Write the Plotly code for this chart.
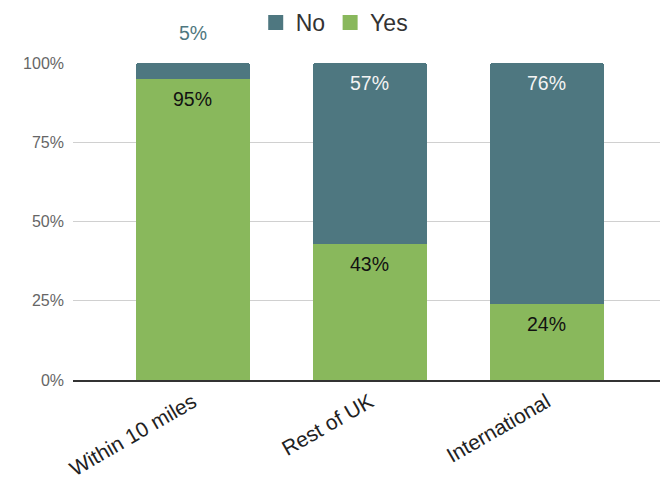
import plotly.graph_objects as go

categories = ["Within 10 miles", "Rest of UK", "International"]
yes_values = [95, 43, 24]
no_values = [5, 57, 76]
tick_vals = [0, 25, 50, 75, 100]
tick_text = ["0%", "25%", "50%", "75%", "100%"]

YES_COLOR = "#89b85c"
NO_COLOR = "#4e7780"
FONT = "Liberation Sans, Arial, sans-serif"

fig = go.Figure()
fig.add_trace(go.Bar(
    x=categories, y=yes_values, name="Yes", marker_color=YES_COLOR,
    marker_line_width=0, width=0.645, hoverinfo="skip", showlegend=False,
    legendgroup="yes",
))
fig.add_trace(go.Bar(
    x=categories, y=no_values, name="No", marker_color=NO_COLOR,
    marker_line_width=0, width=0.645, hoverinfo="skip", showlegend=False,
    legendgroup="no",
))
# legend entries with larger square swatches
for name, color in [("No", NO_COLOR), ("Yes", YES_COLOR)]:
    fig.add_trace(go.Scatter(
        x=[None], y=[None], mode="markers", name=name,
        marker=dict(symbol="square", size=15, color=color),
        legendgroup=name.lower(),
    ))

for c, y, n in zip(categories, yes_values, no_values):
    fig.add_annotation(x=c, y=y, text=f"{y}%", showarrow=False, yshift=-20,
                       font=dict(color="#111111", size=19.5, family=FONT))
    if n < 10:
        fig.add_annotation(x=c, y=y + n, text=f"{n}%", showarrow=False,
                           yshift=30, font=dict(color=NO_COLOR, size=19.5, family=FONT))
    else:
        fig.add_annotation(x=c, y=y + n, text=f"{n}%", showarrow=False,
                           yshift=-19.5, font=dict(color="#f4f4f4", size=19.5, family=FONT))

fig.update_layout(
    barmode="stack",
    barcornerradius=3,
    width=660, height=481,
    margin=dict(l=73, r=0, t=63, b=101, autoexpand=False),
    paper_bgcolor="white", plot_bgcolor="white",
    font=dict(family=FONT),
    showlegend=True,
    legend=dict(orientation="h", x=0.445, xanchor="center", y=1.06, yanchor="bottom",
                font=dict(size=23, color="#333333"),
                itemwidth=30, itemsizing="trace"),
)
fig.update_xaxes(range=[-0.678, 2.64], tickangle=-30, showgrid=False,
                 showline=True, linecolor="#333333", linewidth=1.5,
                 tickfont=dict(size=21, color="#222222", family=FONT), ticks="")
fig.update_yaxes(range=[0, 100], tickvals=tick_vals, ticktext=tick_text,
                 showgrid=True, gridcolor="#d0d0d0", zeroline=False,
                 tickfont=dict(size=16, color="#666666", family=FONT), ticks="",
                 ticklabelstandoff=8)

fig.write_html("out.html")
